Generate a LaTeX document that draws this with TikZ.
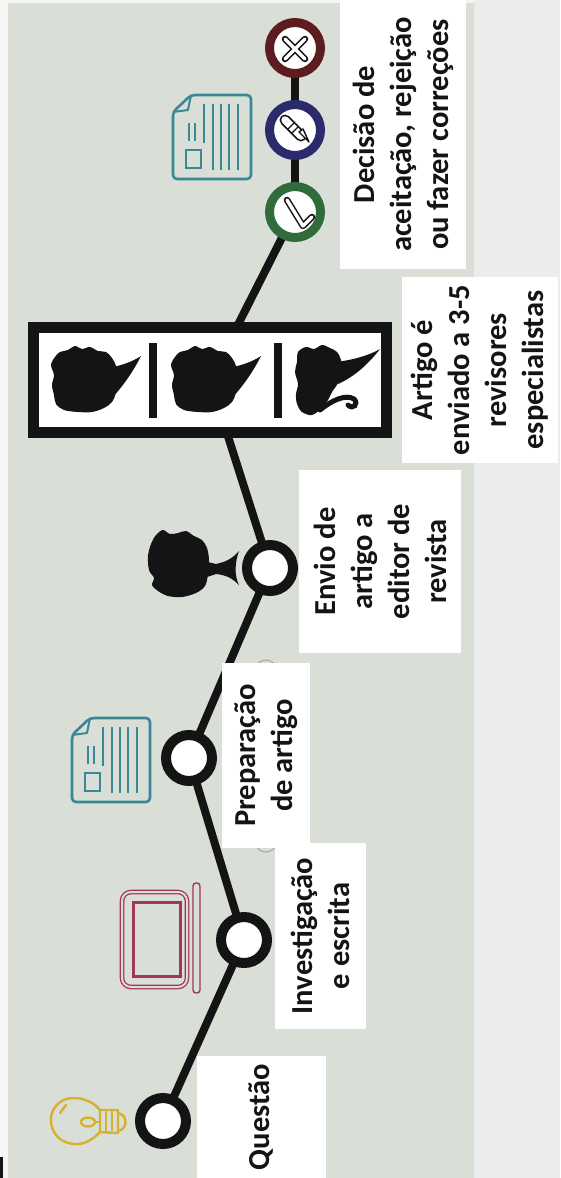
\documentclass[tikz,border=0pt]{standalone}
\usepackage{fontspec}
\setmainfont{Carlito}

\definecolor{sage}{HTML}{D9DFD6}
\definecolor{outergray}{HTML}{ECECEC}
\definecolor{ink}{HTML}{141414}
\definecolor{teal}{HTML}{3A8797}
\definecolor{laptoppink}{HTML}{A3345F}
\definecolor{bulbyellow}{HTML}{D6B12E}
\definecolor{stopred}{HTML}{5D1C20}
\definecolor{stopblue}{HTML}{2B2B6B}
\definecolor{stopgreen}{HTML}{2F6B3B}

\newcommand\lblfont{\fontsize{30.5pt}{37pt}\selectfont\bfseries}

\pgfdeclarelayer{panel}
\pgfdeclarelayer{links}
\pgfsetlayers{panel,links,main}

\tikzset{
  stagelabel/.style={fill=white, rotate=90, align=center, font=\lblfont,
    text=ink, inner sep=0pt},
  stop/.style={circle, draw=ink, line width=10pt, fill=white,
    minimum size=46pt, inner sep=0pt},
  decision/.style={circle, line width=9pt, fill=white,
    minimum size=51pt, inner sep=0pt},
  link/.style={draw=ink, line width=8pt},
  glyphout/.style={draw=ink, line width=6.5pt, line cap=round, line join=round},
  glyphin/.style={draw=white, line width=3.5pt, line cap=round, line join=round},
  docicon/.pic={
    \draw[teal, line width=2.6pt, rounded corners=4pt, line join=round]
      (18,0) -- (78,0) -- (78,84) -- (0,84) -- (0,17) -- cycle;
    \draw[teal, line width=2pt, line join=round] (0,17) -- (15,15) -- (18,0);
    \draw[teal, line width=2.4pt]
      (40,9) -- (40,75) (48,9) -- (48,75) (56,9) -- (56,75) (65,9) -- (65,75)
      (31,9) -- (31,48) (16,28) -- (16,46) (22,28) -- (22,46);
    \draw[teal, line width=2.4pt] (13,55) rectangle (28,73);
  },
  profilehead/.pic={
    \fill[ink] plot[smooth cycle, tension=0.55] coordinates {
      (8,4) (16,2) (23,-2) (30,1) (38,-1) (46,3) (54,4) (60,10) (64,18)
      (65,30) (64,44) (60,54) (52,60) (40,64) (26,64) (12,62) (4,56)
      (2,47) (0,37) (2,27) (-1,17) (3,9)};
    \fill[ink] (56,20) .. controls (68,18) and (80,14) .. (89,8)
      .. controls (82,22) and (72,37) .. (60,50) -- cycle;
  },
}

\begin{document}
\begin{tikzpicture}[x=1pt, y=-1pt]
\useasboundingbox (0,0) rectangle (560,1178);

% backdrop and the sage panel
\begin{pgfonlayer}{panel}
  \fill[white!96!black] (0,0) rectangle (560,1178);
  \fill[outergray] (474,0) rectangle (560,1178);
  \fill[sage] (8,3) rectangle (474,1178);
  \fill[ink] (0,1157) rectangle (2.5,1178);
\end{pgfonlayer}

% stage captions
\node[stagelabel, minimum width=122pt, minimum height=129pt] (tq) at (261.5,1117) {Questão};
\node[stagelabel, minimum width=186pt, minimum height=91pt] (ti) at (320.5,936) {Investigação\\e escrita};
\node[stagelabel, minimum width=185pt, minimum height=88pt] (tp) at (266,755.5) {Preparação\\de artigo};
\node[stagelabel, minimum width=183pt, minimum height=162pt] (te) at (380,561.5) {Envio de\\artigo a\\editor de\\revista};
\node[stagelabel, minimum width=186pt, minimum height=156pt] (ta) at (480,370) {Artigo é\\enviado a 3-5\\revisores\\especialistas};
\node[stagelabel, minimum width=269pt, minimum height=126pt] (td) at (403,134.5) {Decisão de\\aceitação, rejeição\\ou fazer correções};

% timeline stops
\node[stop] (q) at (163,1121) {};
\node[stop] (i) at (244,940) {};
\node[stop] (p) at (189,758) {};
\node[stop] (e) at (270,568) {};
\node[draw=ink, line width=11pt, fill=white, minimum width=353pt,
      minimum height=105pt, inner sep=0pt] (rev) at (210,380) {};
\node[decision, draw=stopgreen] (gr) at (295,212) {};
\node[decision, draw=stopblue] (bl) at (295,130) {};
\node[decision, draw=stopred] (mr) at (295,48) {};

% connectors behind the stops
\begin{pgfonlayer}{links}
  \draw[link] (q.center) -- (i.center);
  \draw[link] (i.center) -- (p.center);
  \draw[link] (p.center) -- (e.center);
  \draw[link] (e.center) -- (rev.center);
  \draw[link] (rev.center) -- (gr.center);
  \draw[link] (gr.center) -- (bl.center);
  \draw[link] (bl.center) -- (mr.center);
  \draw[gray!70, line width=1pt] (266,756) ellipse [x radius=30pt, y radius=96pt];
\end{pgfonlayer}

% reviewers: dividers and silhouettes
\fill[ink] (149,343) rectangle (157,418);
\fill[ink] (274,343) rectangle (282,418);
\pic at (52,348) {profilehead};
\pic at (172,348) {profilehead};
\fill[ink] plot[smooth cycle, tension=0.55] coordinates {
  (298,352) (306,347) (314,349) (322,345) (330,348) (337,352) (341,360)
  (341,372) (338,383) (332,392) (328,400) (322,408) (312,415) (302,412)
  (297,404) (296,394) (298,384) (295,372) (297,362)};
\fill[ink] (336,362) .. controls (352,360) and (368,356) .. (380,349)
  .. controls (370,362) and (356,376) .. (338,384) -- cycle;
\draw[ink, line width=5pt, line cap=round] (320,410) .. controls (332,400) and (346,394) .. (354,399)
  .. controls (359,404) and (353,410) .. (348,405);

% editor silhouette
\fill[ink] plot[smooth cycle, tension=0.55] coordinates {
  (156,535) (163,530) (170,534) (178,533) (186,531) (194,536) (202,540)
  (207,548) (209,560) (208,574) (205,586) (196,593) (182,597) (168,596)
  (158,591) (152,585) (154,578) (149,570) (148,556) (151,544)};
\fill[ink] (204,561) -- (216,564) .. controls (226,562) and (233,558) .. (239,551)
  .. controls (235,562) and (234,575) .. (239,585)
  .. controls (232,578) and (226,575) .. (216,574) -- (204,578) -- cycle;

% document icons
\pic at (72,718) {docicon};
\pic at (173,95) {docicon};

% laptop
\draw[laptoppink, line width=1.3pt, double=sage, double distance=2pt, rounded corners=9pt]
  (122,892) rectangle (187,987);
\draw[laptoppink, line width=3pt] (133,902) rectangle (180,976);
\draw[laptoppink, line width=1.4pt, rounded corners=3pt] (193,883) rectangle (200,993);

% light bulb
\begin{scope}[bulbyellow, line width=2.4pt, line cap=round, line join=round]
  \draw (100,1110) .. controls (92,1100) and (78,1096) .. (66,1099)
    .. controls (55,1103) and (50,1113) .. (51,1122)
    .. controls (52,1133) and (60,1143) .. (74,1144)
    .. controls (86,1145) and (94,1138) .. (100,1132);
  \draw (100,1110) -- (118,1110) -- (118,1133) -- (100,1132) -- cycle;
  \draw (106,1112) -- (106,1130) (112,1112) -- (112,1130);
  \draw (118,1113) .. controls (128,1115) and (128,1129) .. (118,1131);
  \draw (88,1122) ellipse [x radius=7pt, y radius=4.5pt];
  \draw (95,1122) -- (100,1122);
  \draw (60,1113) -- (66,1105);
\end{scope}

% decision glyphs: accept, revise, reject
\draw[glyphout] (287,200) -- (303,226) -- (312,217);
\draw[glyphin] (287,200) -- (303,226) -- (312,217);

\draw[ink, line width=11pt, line cap=round] (285,120) -- (301,136);
\draw[white, line width=7.5pt, line cap=round] (285,120) -- (301,136);
\draw[ink, line width=1.2pt] (288,129) -- (294,123) (292,133) -- (298,127);
\draw[ink, line width=1.4pt, fill=white, line join=round] (299,132) -- (309,142) -- (303,129) -- cycle;

\draw[glyphout] (285,39) -- (305,59) (305,39) -- (285,59);
\draw[glyphin] (285,39) -- (305,59) (305,39) -- (285,59);

\end{tikzpicture}
\end{document}
